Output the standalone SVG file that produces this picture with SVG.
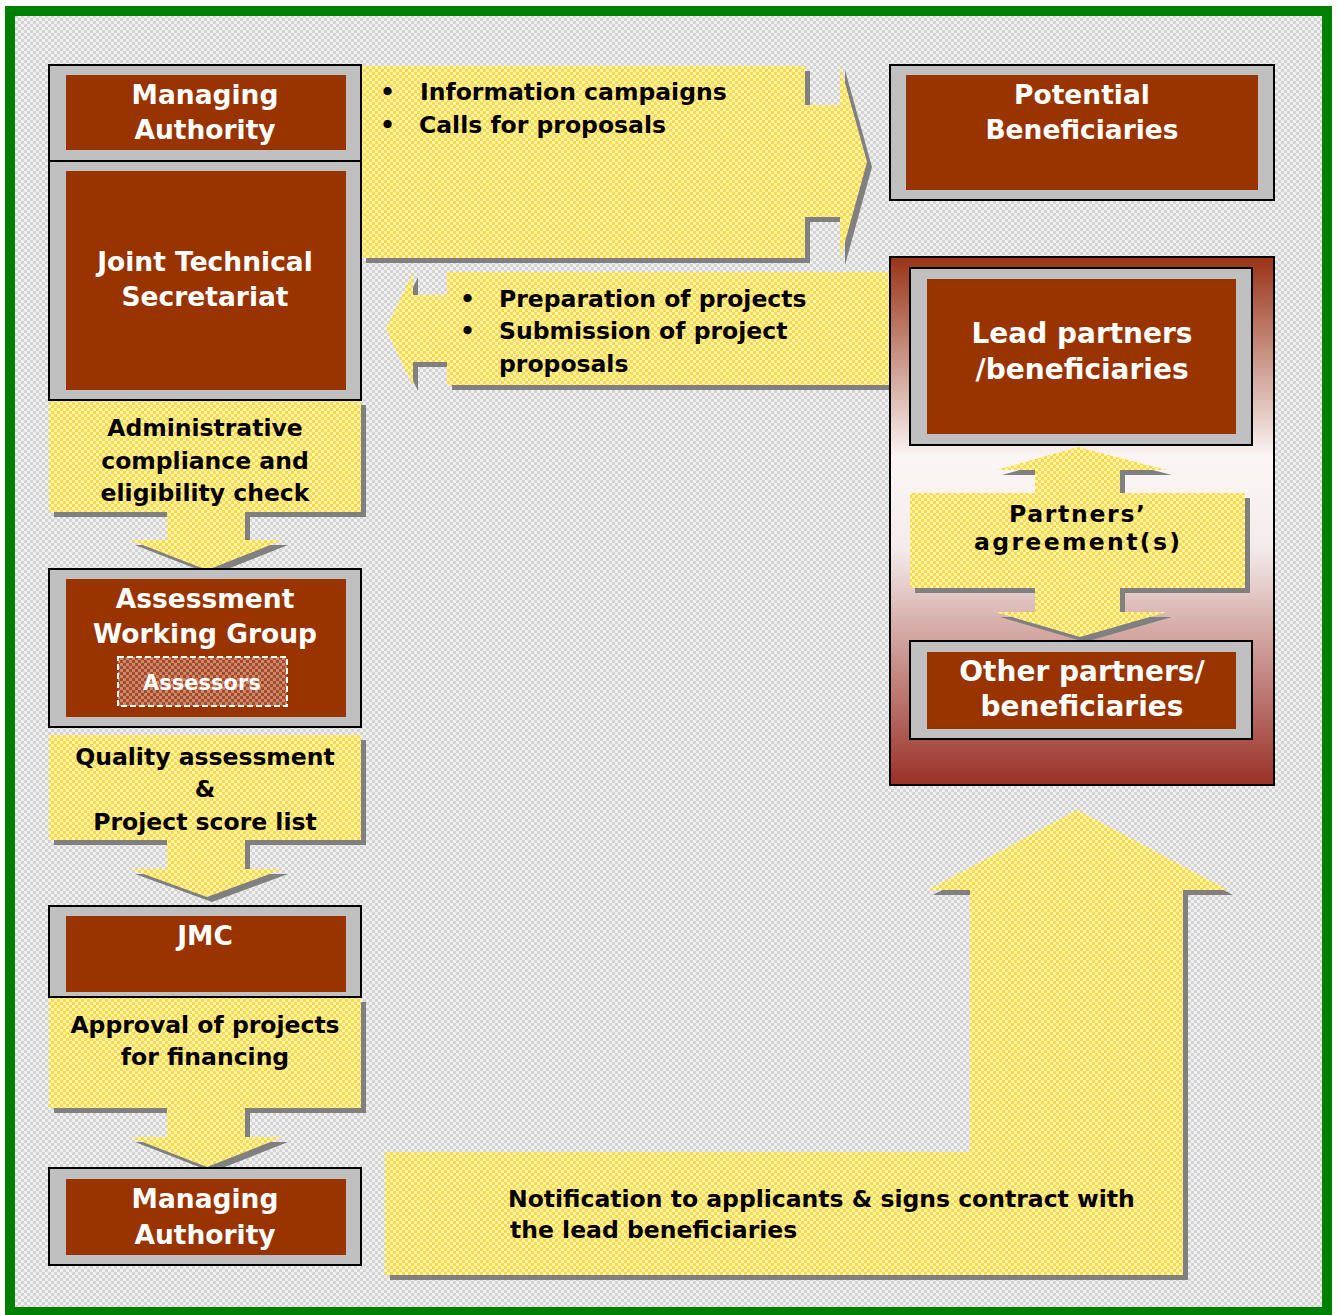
<svg xmlns="http://www.w3.org/2000/svg" width="1339" height="1315" viewBox="0 0 1339 1315">
<defs>
<pattern id="bg" width="6" height="6" patternUnits="userSpaceOnUse">
<rect width="6" height="6" fill="#f0f0f0"/>
<path d="M0 0h3v3H0zM3 3h3v3H3z" fill="#d4d4d4"/>
</pattern>
<pattern id="yl" width="6" height="6" patternUnits="userSpaceOnUse">
<rect width="6" height="6" fill="#fff4b0"/>
<path d="M0 0h3v3H0zM3 3h3v3H3z" fill="#ffd845"/>
</pattern>
<pattern id="as" width="6" height="6" patternUnits="userSpaceOnUse">
<rect width="6" height="6" fill="#c98a70"/>
<path d="M0 0h3v3H0zM3 3h3v3H3z" fill="#a84a28"/>
</pattern>
<linearGradient id="cg" x1="0" y1="0" x2="0" y2="1">
<stop offset="0" stop-color="#993316"/>
<stop offset="0.38" stop-color="#fbf6f5"/>
<stop offset="0.55" stop-color="#f4eceb"/>
<stop offset="1" stop-color="#9a3026"/>
</linearGradient>
<style>
.ob{fill:#c0c0c0;stroke:#000;stroke-width:2}
.ib{fill:#993300}
.bt{font-family:"DejaVu Sans",Verdana,sans-serif;font-weight:bold;fill:#fff;text-anchor:middle}
.yt{font-family:"DejaVu Sans",Verdana,sans-serif;font-weight:bold;fill:#000;font-size:23.5px}
.c{text-anchor:middle}
.ya{fill:url(#yl)}
.sh{fill:#808080}
</style>
</defs>
<rect x="0" y="0" width="1339" height="1315" fill="#fff"/>
<rect x="10" y="11" width="1317" height="1301" fill="url(#bg)" stroke="#008000" stroke-width="10"/>

<g id="connectors">
<path class="sh" transform="translate(5,5)" d="M361 66H805V105H840V65L867 162L840 260V217H805V258H361Z"/>
<path class="ya" d="M361 66H805V105H840V65L867 162L840 260V217H805V258H361Z"/>
<text class="yt" x="380" y="100">•</text>
<text class="yt" x="420" y="100">Information campaigns</text>
<text class="yt" x="380" y="133">•</text>
<text class="yt" x="419" y="133">Calls for proposals</text>

<path class="sh" transform="translate(5,5)" d="M890 272H447V295H413V272L386 329L413 386V362H447V385H890Z"/>
<path class="ya" d="M890 272H447V295H413V272L386 329L413 386V362H447V385H890Z"/>
<text class="yt" x="460" y="307">•</text>
<text class="yt" x="499" y="307">Preparation of projects</text>
<text class="yt" x="460" y="339">•</text>
<text class="yt" x="499" y="339">Submission of project</text>
<text class="yt" x="499" y="372">proposals</text>

<path class="sh" transform="translate(5,5)" d="M49 400H361V512H245V540H283L207 570L130 540H167V512H49Z"/>
<path class="ya" d="M49 400H361V512H245V540H283L207 570L130 540H167V512H49Z"/>
<text class="yt c" x="205" y="436">Administrative</text>
<text class="yt c" x="205" y="469">compliance and</text>
<text class="yt c" x="205" y="501">eligibility check</text>

<path class="sh" transform="translate(5,5)" d="M49 735H361V840H245V869H283L207 897L130 869H167V840H49Z"/>
<path class="ya" d="M49 735H361V840H245V869H283L207 897L130 869H167V840H49Z"/>
<text class="yt c" x="205" y="765">Quality assessment</text>
<text class="yt c" x="205" y="797">&amp;</text>
<text class="yt c" x="205" y="830">Project score list</text>

<path class="sh" transform="translate(5,5)" d="M49 997H361V1108H245V1137H283L207 1167L130 1137H167V1108H49Z"/>
<path class="ya" d="M49 997H361V1108H245V1137H283L207 1167L130 1137H167V1108H49Z"/>
<text class="yt c" x="205" y="1033">Approval of projects</text>
<text class="yt c" x="205" y="1065">for financing</text>

<path class="sh" transform="translate(5,5)" d="M385 1152H970V890H928L1077 810L1228 890H1183V1275H385Z"/>
<path class="ya" d="M385 1152H970V890H928L1077 810L1228 890H1183V1275H385Z"/>
<text class="yt" x="508" y="1207">Notification to applicants &amp; signs contract with</text>
<text class="yt" x="510" y="1238">the lead beneficiaries</text>
</g>

<g id="managing-authority-top">
<rect class="ob" x="49" y="65" width="312" height="96"/>
<rect class="ib" x="66" y="75" width="280" height="75"/>
<text class="bt" x="205" y="104" font-size="26.5">Managing</text>
<text class="bt" x="205" y="139" font-size="26.5">Authority</text>
</g>

<g id="joint-technical-secretariat">
<rect class="ob" x="49" y="161" width="312" height="239"/>
<rect class="ib" x="66" y="171" width="280" height="219"/>
<text class="bt" x="205" y="271" font-size="26.5">Joint Technical</text>
<text class="bt" x="205" y="306" font-size="26.5">Secretariat</text>
</g>

<g id="potential-beneficiaries">
<rect class="ob" x="890" y="65" width="384" height="135"/>
<rect class="ib" x="906" y="75" width="352" height="115"/>
<text class="bt" x="1082" y="104" font-size="26.5">Potential</text>
<text class="bt" x="1082" y="139" font-size="26.5">Beneficiaries</text>
</g>

<g id="partners-container">
<rect x="890" y="257" width="384" height="528" fill="url(#cg)" stroke="#000" stroke-width="2"/>
</g>

<g id="lead-partners">
<rect class="ob" x="910" y="268" width="342" height="177"/>
<rect class="ib" x="927" y="279" width="309" height="155"/>
<text class="bt" x="1082" y="343" font-size="28">Lead partners</text>
<text class="bt" x="1082" y="379" font-size="28">/beneficiaries</text>
</g>

<g id="partners-agreement">
<path class="sh" transform="translate(5,5)" d="M1078 447L1167 470H1120V493H1245V588H1120V612H1167L1080 637L995 612H1035V588H910V493H1035V470H997Z"/>
<path class="ya" d="M1078 447L1167 470H1120V493H1245V588H1120V612H1167L1080 637L995 612H1035V588H910V493H1035V470H997Z"/>
<text class="yt c" x="1077" y="522" font-size="23" textLength="136">Partners’</text>
<text class="yt c" x="1077" y="550" font-size="23" textLength="206">agreement(s)</text>
</g>

<g id="other-partners">
<rect class="ob" x="910" y="641" width="342" height="98"/>
<rect class="ib" x="927" y="652" width="309" height="77"/>
<text class="bt" x="1082" y="681" font-size="28">Other partners/</text>
<text class="bt" x="1082" y="716" font-size="28">beneficiaries</text>
</g>

<g id="assessment-working-group">
<rect class="ob" x="49" y="569" width="312" height="158"/>
<rect class="ib" x="66" y="579" width="280" height="138"/>
<text class="bt" x="205" y="608" font-size="26.5">Assessment</text>
<text class="bt" x="205" y="643" font-size="26.5">Working Group</text>
<rect x="118" y="657" width="169" height="49" fill="url(#as)" stroke="#fff" stroke-width="2" stroke-dasharray="6 3"/>
<text class="bt" x="202" y="690" font-size="21">Assessors</text>
</g>

<g id="jmc">
<rect class="ob" x="49" y="906" width="312" height="91"/>
<rect class="ib" x="66" y="916" width="280" height="76"/>
<text class="bt" x="205" y="945" font-size="26.5">JMC</text>
</g>

<g id="managing-authority-bottom">
<rect class="ob" x="49" y="1168" width="312" height="97"/>
<rect class="ib" x="66" y="1179" width="280" height="76"/>
<text class="bt" x="205" y="1208" font-size="26.5">Managing</text>
<text class="bt" x="205" y="1244" font-size="26.5">Authority</text>
</g>
</svg>
